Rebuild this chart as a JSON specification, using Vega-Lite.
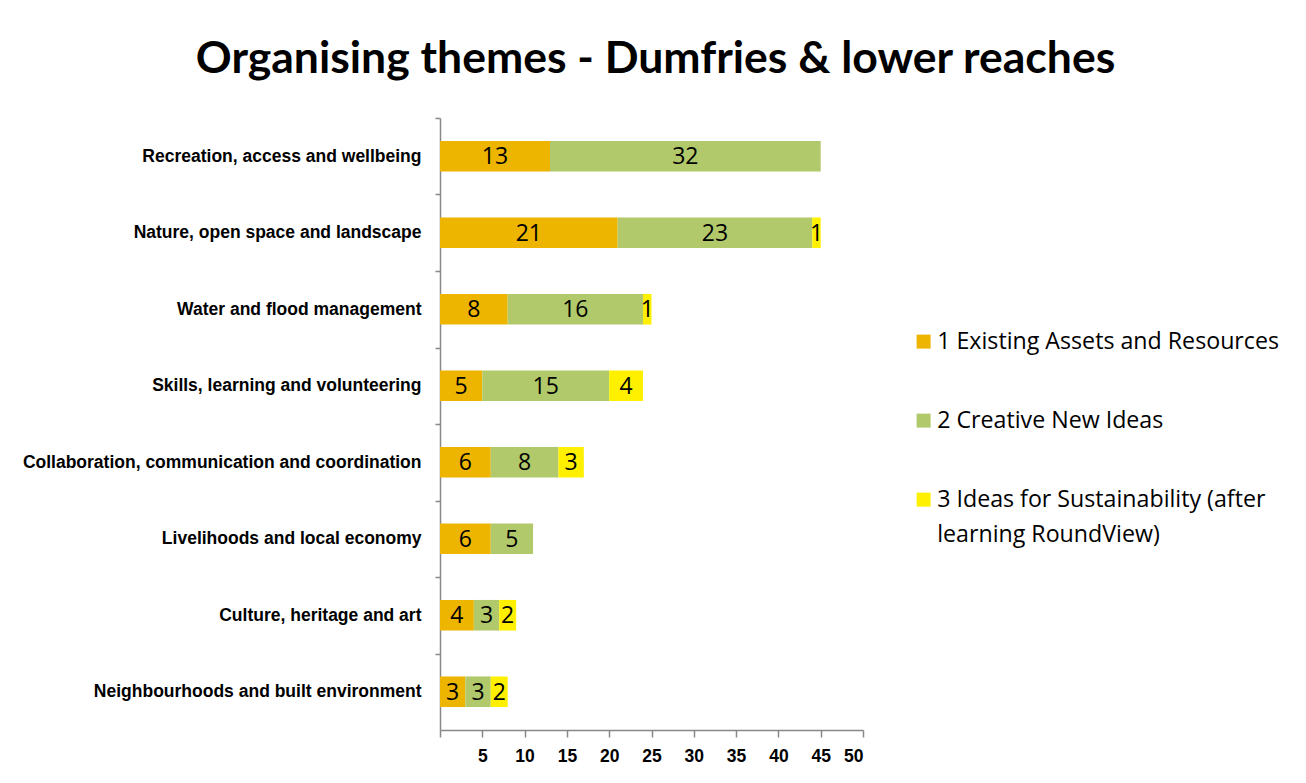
{
  "$schema": "https://vega.github.io/schema/vega-lite/v6.json",
  "autosize": {"type": "none"},
  "padding": {"left": 440, "top": 118, "right": 443, "bottom": 53},
  "width": 423,
  "height": 612,
  "background": "white",
  "title": {
    "text": "Organising themes - Dumfries & lower reaches",
    "font": "Lato",
    "fontSize": 44.5,
    "fontWeight": "bold",
    "color": "black",
    "anchor": "middle",
    "frame": "group",
    "offset": 35,
    "dx": 4
  },
  "data": {
    "values": [
      {"theme": "Recreation, access and wellbeing", "series": "1 Existing Assets and Resources", "count": 13},
      {"theme": "Recreation, access and wellbeing", "series": "2 Creative New Ideas", "count": 32},
      {"theme": "Nature, open space and landscape\u00a0", "series": "1 Existing Assets and Resources", "count": 21},
      {"theme": "Nature, open space and landscape\u00a0", "series": "2 Creative New Ideas", "count": 23},
      {"theme": "Nature, open space and landscape\u00a0", "series": "3 Ideas for Sustainability (after learning RoundView)", "count": 1},
      {"theme": "Water and flood management", "series": "1 Existing Assets and Resources", "count": 8},
      {"theme": "Water and flood management", "series": "2 Creative New Ideas", "count": 16},
      {"theme": "Water and flood management", "series": "3 Ideas for Sustainability (after learning RoundView)", "count": 1},
      {"theme": "Skills, learning and volunteering", "series": "1 Existing Assets and Resources", "count": 5},
      {"theme": "Skills, learning and volunteering", "series": "2 Creative New Ideas", "count": 15},
      {"theme": "Skills, learning and volunteering", "series": "3 Ideas for Sustainability (after learning RoundView)", "count": 4},
      {"theme": "Collaboration, communication and coordination", "series": "1 Existing Assets and Resources", "count": 6},
      {"theme": "Collaboration, communication and coordination", "series": "2 Creative New Ideas", "count": 8},
      {"theme": "Collaboration, communication and coordination", "series": "3 Ideas for Sustainability (after learning RoundView)", "count": 3},
      {"theme": "Livelihoods and local economy", "series": "1 Existing Assets and Resources", "count": 6},
      {"theme": "Livelihoods and local economy", "series": "2 Creative New Ideas", "count": 5},
      {"theme": "Culture, heritage and art", "series": "1 Existing Assets and Resources", "count": 4},
      {"theme": "Culture, heritage and art", "series": "2 Creative New Ideas", "count": 3},
      {"theme": "Culture, heritage and art", "series": "3 Ideas for Sustainability (after learning RoundView)", "count": 2},
      {"theme": "Neighbourhoods and built environment\u00a0", "series": "1 Existing Assets and Resources", "count": 3},
      {"theme": "Neighbourhoods and built environment\u00a0", "series": "2 Creative New Ideas", "count": 3},
      {"theme": "Neighbourhoods and built environment\u00a0", "series": "3 Ideas for Sustainability (after learning RoundView)", "count": 2}
    ]
  },
  "transform": [
    {"stack": "count", "groupby": ["theme"], "sort": [{"field": "series", "order": "ascending"}], "as": ["x0", "x1"]},
    {"calculate": "(datum.x0 + datum.x1) / 2", "as": "xmid"}
  ],
  "encoding": {
    "y": {
      "field": "theme",
      "type": "nominal",
      "sort": null,
      "title": null,
      "scale": {"paddingInner": 0.6, "paddingOuter": 0.3},
      "axis": {
        "domainColor": "#888888",
        "domainWidth": 1.5,
        "tickColor": "#888888",
        "tickWidth": 1.5,
        "tickSize": 5,
        "tickOffset": -38.25,
        "labelOffset": 38.25,
        "labelFont": "Liberation Sans",
        "labelFontWeight": "bold",
        "labelFontSize": 17.5,
        "labelColor": "black",
        "labelPadding": 14,
        "labelLimit": 500
      }
    }
  },
  "layer": [
    {
      "mark": {"type": "bar", "stroke": null},
      "encoding": {
        "x": {
          "field": "x0",
          "type": "quantitative",
          "scale": {"domain": [0, 50], "nice": false},
          "title": null,
          "axis": {
            "values": [0, 5, 10, 15, 20, 25, 30, 35, 40, 45, 50],
            "labelExpr": "datum.value == 0 ? '' : datum.label",
            "grid": false,
            "domainColor": "#888888",
            "domainWidth": 1.5,
            "tickColor": "#888888",
            "tickWidth": 1.5,
            "tickSize": 7,
            "labelFont": "Liberation Sans",
            "labelFontWeight": "bold",
            "labelFontSize": 17.5,
            "labelColor": "black",
            "labelPadding": 10
          }
        },
        "x2": {"field": "x1"},
        "color": {
          "field": "series",
          "type": "nominal",
          "scale": {
            "domain": ["1 Existing Assets and Resources", "2 Creative New Ideas", "3 Ideas for Sustainability (after learning RoundView)"],
            "range": ["#EDB400", "#B1C96A", "#FFF000"]
          },
          "legend": {
            "title": null,
            "orient": "none",
            "legendX": 472,
            "legendY": 212,
            "symbolType": "square",
            "symbolSize": 196,
            "symbolStrokeWidth": 0,
            "labelFont": "Open Sans",
            "labelFontSize": 23.2,
            "labelColor": "black",
            "labelLimit": 600,
            "labelOffset": 2,
            "rowPadding": 55,
            "labelExpr": "indexof(datum.label, 'RoundView') >= 0 ? ['3 Ideas for Sustainability (after', 'learning RoundView)'] : datum.label"
          }
        }
      }
    },
    {
      "mark": {"type": "text", "font": "Open Sans", "fontSize": 23, "color": "black", "baseline": "middle", "align": "center", "dy": 1},
      "encoding": {
        "x": {"field": "xmid", "type": "quantitative"},
        "text": {"field": "count", "type": "quantitative"}
      }
    }
  ],
  "config": {
    "view": {"stroke": null},
    "style": {"guide-label": {"lineHeight": 35}}
  }
}
